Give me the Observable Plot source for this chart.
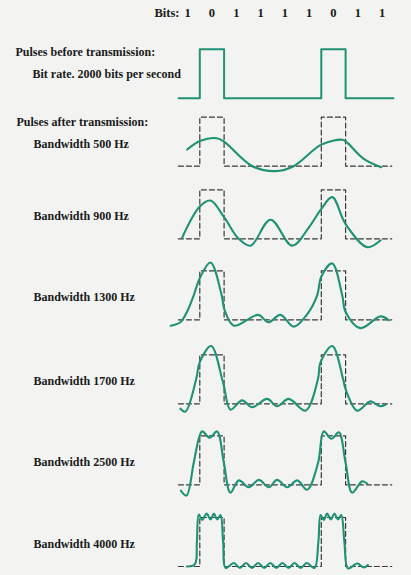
<!DOCTYPE html>
<html>
<head>
<meta charset="utf-8">
<script src="https://cdn.jsdelivr.net/npm/d3@7"></script>
<script src="https://cdn.jsdelivr.net/npm/@observablehq/plot@0.6"></script>
<style>
  html, body { margin: 0; padding: 0; background: #f3f3f1; }
  svg { display: block; }
</style>
</head>
<body>
<script>
// ---- Data ----
// transmitted bit sequence; the pulses are high on the 0 bits
const bits = [1, 0, 1, 1, 1, 1, 0, 1, 1];
const bitRateLabel = "Bit rate. 2000 bits per second";
const bandwidths = [500, 900, 1300, 1700, 2500, 4000];

// received waveforms: [time in bit periods, amplitude relative to pulse height]
const bw500 = [[0.48,0.34],[1.03,0.52],[1.7,0.57],[2.0,0.5],[3.16,0],[4.12,-0.10],[4.86,0],[6.0,0.44],[6.86,0.54],[7.02,0.5],[7.75,0.15],[8.46,-0.02]];
const bw900 = [[0.27,0.02],[1.0,0.66],[1.44,0.78],[2.0,0.44],[2.6,0],[3.09,-0.14],[3.91,0.39],[4.8,-0.14],[5.5,0.24],[6.0,0.61],[6.45,0.85],[7.0,0.3],[7.89,-0.17],[8.44,-0.03]];
const bw1300 = [[-0.2,-0.12],[0.2,-0.05],[0.5,0.19],[0.75,0.5],[1.0,0.85],[1.44,1.17],[1.9,0.5],[2.02,0.2],[2.4,-0.12],[3.4,0.10],[3.82,-0.05],[4.32,0.10],[4.87,-0.14],[5.4,0.1],[5.83,0.5],[6.0,0.88],[6.45,1.15],[6.86,0.5],[7.0,0.16],[7.61,-0.17],[8.44,0.07],[8.78,-0.01]];
const bw1700 = [[0.2,-0.10],[0.41,-0.16],[0.85,0.5],[1.0,0.85],[1.47,1.18],[1.92,0.5],[2.0,0.35],[2.26,-0.12],[2.74,0.07],[3.16,-0.07],[3.77,0.10],[4.18,-0.05],[4.66,0.10],[5.35,-0.14],[5.86,0.5],[5.97,0.85],[6.45,1.18],[6.9,0.5],[7.0,0.3],[7.48,-0.14],[8.02,0.05],[8.41,-0.05],[8.64,-0.02]];
const bw2500 = [[0.22,-0.12],[0.45,-0.22],[0.75,0.45],[0.98,0.98],[1.1,1.09],[1.41,0.96],[1.71,1.09],[1.99,0.45],[2.26,-0.16],[2.61,0.09],[3.02,-0.05],[3.43,0.10],[3.84,-0.05],[4.18,0.10],[4.6,-0.05],[5.01,0.09],[5.42,-0.10],[5.87,0.45],[6.1,1.09],[6.42,0.94],[6.72,1.07],[7.0,0.45],[7.27,-0.16],[7.68,0.07],[7.89,0.02]];
const bw4000 = [[0.48,0.0],[0.8,0.05],[0.88,0.5],[0.96,1.06],[1.1,0.95],[1.28,1.08],[1.44,0.96],[1.58,1.08],[1.71,0.96],[1.85,1.05],[1.96,0.5],[2.06,-0.03],[2.4,0.07],[2.65,-0.03],[2.9,0.07],[3.15,-0.03],[3.4,0.07],[3.65,-0.03],[3.9,0.07],[4.15,-0.03],[4.4,0.07],[4.65,-0.03],[4.9,0.07],[5.15,-0.03],[5.4,0.07],[5.72,-0.03],[5.88,0.5],[5.97,1.05],[6.1,0.95],[6.24,1.08],[6.39,0.96],[6.54,1.08],[6.68,0.96],[6.82,1.05],[6.95,0.5],[7.1,-0.04],[7.48,0.06],[7.75,-0.02],[7.92,0.03]];
const waveforms = [bw500, bw900, bw1300, bw1700, bw2500, bw4000];

// ---- Layout ----
const W = 411, H = 575;
const px0 = 175, pxPerBit = 24.3;   // horizontal placement of bit 0 and bit width
const pulsePx = 49;                 // pulse height in px
const topLevel = 97.7 / pulsePx;    // baseline of the "before" row (in pulse heights)
const rowLevels = [165.7, 238.3, 319.3, 403.3, 484.3, 566].map(p => p / pulsePx);
const green = "#1f9174";
const ink = "#1a1a1a";
const font = "'Liberation Serif', 'Times New Roman', serif";

const Y = (level, a) => a - level;

// square pulse reference drawn from the bit sequence
function square(level, t0, t1) {
  const pts = [{t: t0, y: Y(level, bits[0] === 0 ? 1 : 0)}];
  for (let k = 1; k < bits.length; k++) pts.push({t: k, y: Y(level, bits[k] === 0 ? 1 : 0)});
  pts.push({t: t1, y: Y(level, bits[bits.length - 1] === 0 ? 1 : 0)});
  return pts;
}

const marks = [];

// top row: pulses before transmission
marks.push(Plot.line(square(topLevel, 0.13, 8.97), {x: "t", y: "y", curve: "step-after", stroke: green, strokeWidth: 2}));

// bits row
marks.push(Plot.text(bits, {x: (d, i) => i + 0.5, y: () => Y(topLevel, 1.73), text: d => String(d),
  fontFamily: font, fontWeight: "bold", fontSize: 12.5, fill: ink}));
marks.push(Plot.text(["Bits:"], {x: () => 0, y: () => Y(topLevel, 1.73), text: d => d, textAnchor: "end", dx: 4,
  fontFamily: font, fontWeight: "bold", fontSize: 12.5, fill: ink}));

// left labels
const labels = [
  {text: "Pulses before transmission:", y: Y(topLevel, 0.93), dx: 15},
  {text: bitRateLabel, y: Y(topLevel, 0.5), dx: 32},
  {text: "Pulses after transmission:", y: Y(rowLevels[0], 0.89), dx: 16},
  ...bandwidths.map((b, i) => ({text: `Bandwidth ${b} Hz`, y: Y(rowLevels[i], 0.46), dx: 33}))
];
for (const l of labels) {
  marks.push(Plot.text([l], {frameAnchor: "left", y: "y", text: "text", dx: l.dx, textAnchor: "start",
    fontFamily: font, fontWeight: "bold", fontSize: 12, fill: ink}));
}

// panels after transmission
waveforms.forEach((w, i) => {
  const lvl = rowLevels[i];
  marks.push(Plot.line(square(lvl, 0.12, 8.9), {x: "t", y: "y", curve: "step-after",
    stroke: "#3a3a3a", strokeWidth: 1.2, strokeDasharray: "5,3"}));
  marks.push(Plot.line(w, {x: d => d[0], y: d => Y(lvl, d[1]), curve: "catmull-rom",
    stroke: green, strokeWidth: 2.1, strokeLinejoin: "round", strokeLinecap: "round"}));
});

const chart = Plot.plot({
  width: W, height: H,
  marginTop: 0, marginRight: 0, marginBottom: 0, marginLeft: 0,
  style: {background: "#f3f3f1", overflow: "visible"},
  x: {domain: [-px0 / pxPerBit, (W - px0) / pxPerBit], range: [0, W], axis: null},
  y: {domain: [0, -H / pulsePx], range: [0, H], axis: null},
  marks
});
document.body.appendChild(chart);
</script>
</body>
</html>
